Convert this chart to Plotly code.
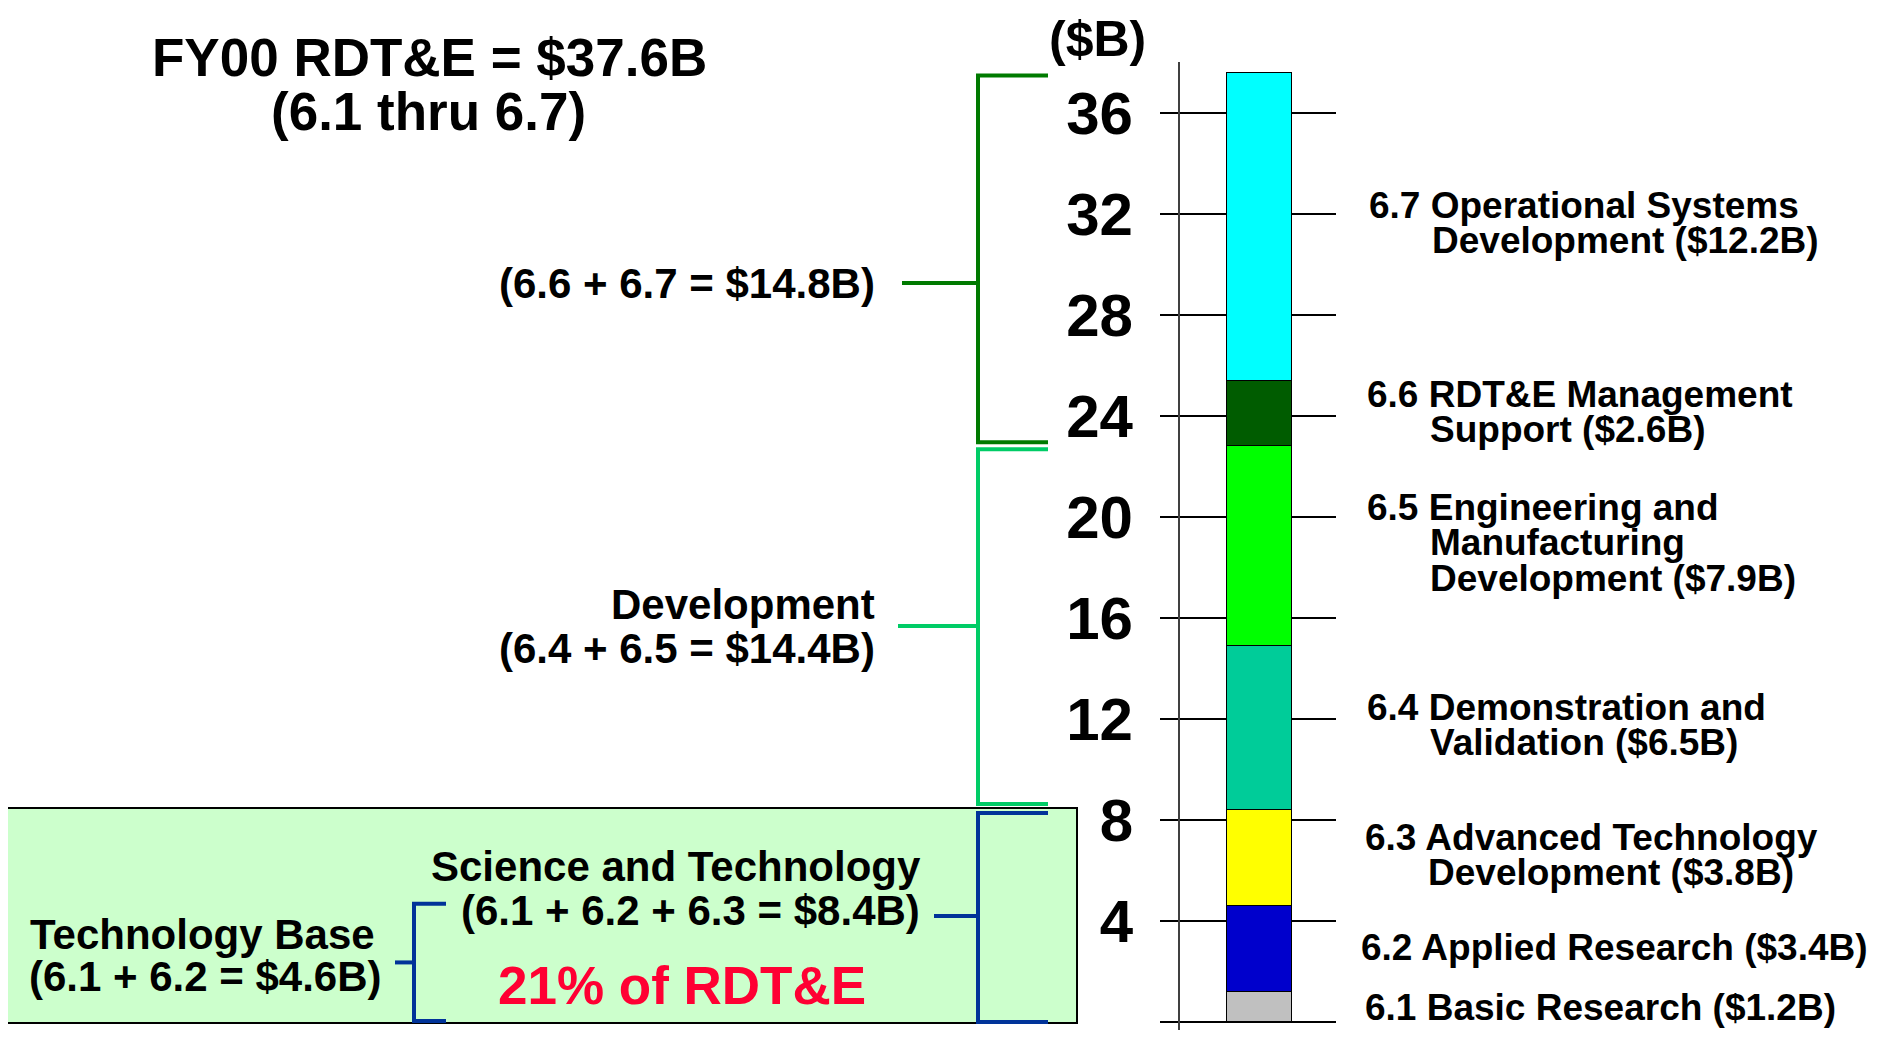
import plotly.graph_objects as go

# ---------------- data ----------------
categories = ["6.1", "6.2", "6.3", "6.4", "6.5", "6.6", "6.7"]
values = [1.2, 3.4, 3.8, 6.5, 7.9, 2.6, 12.2]
colors = ["#C0C0C0", "#0000CC", "#FFFF00", "#00CC99", "#00FF00", "#005C00", "#00FFFF"]
label_lines = [
    ["6.1 Basic Research ($1.2B)"],
    ["6.2 Applied Research ($3.4B)"],
    ["6.3 Advanced Technology", "Development ($3.8B)"],
    ["6.4 Demonstration and", "Validation ($6.5B)"],
    ["6.5 Engineering and", "Manufacturing", "Development ($7.9B)"],
    ["6.6 RDT&E Management", "Support ($2.6B)"],
    ["6.7 Operational Systems", "Development ($12.2B)"],
]
tick_values = [0, 4, 8, 12, 16, 20, 24, 28, 32, 36]
tick_text = [str(t) for t in tick_values]

W, FH = 1889, 1046
OFF = 8    # page body margin; figure is drawn from (8, 8)
FONT = "Liberation Sans, Arial, Helvetica, sans-serif"

# pixel mapping of the value axis (value 0 at page y=1022, 25.25 px per unit)
Y0, PPU = 1022.0, 25.25
def vpx(v):
    return Y0 - PPU * v
def px(x):
    return (x - OFF) / W
def py(y):
    return 1 - (y - OFF) / FH

ax_top_px, ax_bot_px = 62.0, 1030.0
y_range = [(Y0 - ax_bot_px) / PPU, (Y0 - ax_top_px) / PPU]

fig = go.Figure()
for cat, val, col in zip(categories, values, colors):
    fig.add_trace(go.Bar(
        x=[1259.5], y=[val], width=[65], name=cat,
        marker=dict(color=col, line=dict(color="black", width=1.5)),
        hoverinfo="name+y",
    ))

shapes = []
annotations = []

def text(t, x, y, size, anchor="left", color="black", yanchor="middle"):
    annotations.append(dict(
        text=t, x=px(x), y=py(y), xref="paper", yref="paper",
        xanchor=anchor, yanchor=yanchor, showarrow=False,
        font=dict(family=FONT, size=size, color=color, weight="bold"),
    ))

def line(x0, y0, x1, y1, color, width=4):
    shapes.append(dict(type="line", xref="paper", yref="paper",
                       x0=px(x0), y0=py(y0), x1=px(x1), y1=py(y1),
                       line=dict(color=color, width=width)))

# background box for S&T
shapes.append(dict(type="rect", xref="paper", yref="paper", layer="below",
                   x0=px(7), x1=px(1077), y0=py(808), y1=py(1023),
                   fillcolor="#CCFFCC", line=dict(color="black", width=2)))

# cumulative boundaries
cum = [0.0]
for v in values:
    cum.append(cum[-1] + v)

# brackets: (bottom index, top index, color, mid y px, mid x start, top pad, bottom pad)
brackets = [
    (5, 7, "#007A00", 283, 902, 3, -4),
    (3, 5, "#00CC66", 626, 898, 3, -6),
    (0, 3, "#003399", 916, 934, 3, 0),
]
BX, BX_END = 978, 1048
for lo, hi, col, mid, mx, tpad, bpad in brackets:
    ytop = vpx(cum[hi]) + tpad
    ybot = vpx(cum[lo]) + bpad
    line(BX, ytop, BX, ybot, col)
    line(BX - 2, ytop, BX_END, ytop, col)
    line(BX - 2, ybot, BX_END, ybot, col)
    line(mx, mid, BX, mid, col)

# small Technology Base bracket (6.1 + 6.2)
tb_top = vpx(cum[2]) - 2
tb_bot = vpx(cum[0]) - 1
line(414, tb_top, 414, tb_bot, "#003399")
line(412, tb_top, 446, tb_top, "#003399")
line(412, tb_bot, 446, tb_bot, "#003399")
line(395, (tb_top + tb_bot) / 2, 414, (tb_top + tb_bot) / 2, "#003399")

# titles
text("FY00 RDT&E = $37.6B", 429, 57, 53, "center")
text("(6.1 thru 6.7)", 428, 111, 53, "center")
text("($B)", 1097, 8.5, 50, "center", yanchor="top")

# left group labels
text("(6.6 + 6.7 = $14.8B)", 877, 283, 42, "right")
text("Development", 877, 604, 42, "right")
text("(6.4 + 6.5 = $14.4B)", 877, 648, 42, "right")
text("Science and Technology", 676, 866, 42, "center")
text("(6.1 + 6.2 + 6.3 = $8.4B)", 690, 910, 42, "center")
text("21% of RDT&E", 682, 985, 53, "center", color="#FF0033")
text("Technology Base", 28, 934, 42, "left")
text("(6.1 + 6.2 = $4.6B)", 27, 976, 42, "left")

# right category labels: (first-line x, first-line y) per category
label_pos = [(1363, 1007), (1359, 947), (1363, 837), (1365, 707),
             (1365, 507), (1365, 394), (1367, 205)]
INDENT, LH = 63, 35.5
for lines_, (lx, ly) in zip(label_lines, label_pos):
    for i, t in enumerate(lines_):
        text(t, lx + (INDENT if i else 0), ly + i * LH, 37, "left")

fig.update_layout(
    width=W, height=FH,
    margin=dict(l=0, r=0, t=0, b=0),
    paper_bgcolor="white", plot_bgcolor="rgba(0,0,0,0)",
    barmode="stack", bargap=0, showlegend=False,
    shapes=shapes, annotations=annotations,
    xaxis=dict(domain=[px(1160), px(1336)], range=[1160, 1336],
               visible=False, fixedrange=True),
    yaxis=dict(domain=[py(ax_bot_px), py(ax_top_px)], range=y_range,
               anchor="free", position=px(1179),
               tickmode="array", tickvals=tick_values, ticktext=tick_text,
               ticks="", ticklabelstandoff=33,
               tickfont=dict(family=FONT, size=60, color="black", weight="bold"),
               showline=True, linecolor="#404040", linewidth=2,
               showgrid=True, gridcolor="black", gridwidth=2,
               zeroline=False, fixedrange=True),
)

fig.write_html("out.html")
